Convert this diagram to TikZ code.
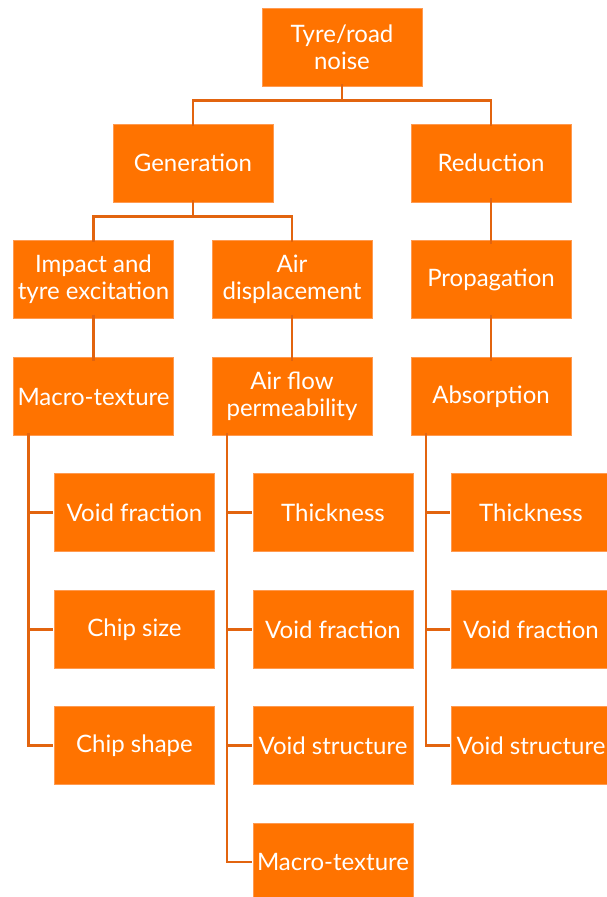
\documentclass[tikz,border=0pt]{standalone}
\usepackage{fontspec}
\setmainfont{Lato}
\definecolor{boxfill}{HTML}{FF7300}
\definecolor{boxedge}{HTML}{FF9A50}
\definecolor{linec}{HTML}{E2640F}
\begin{document}
\begin{tikzpicture}[x=1pt,y=-1pt,
  box/.style={fill=boxfill,draw=boxedge,line width=0.6pt,minimum width=160pt,minimum height=78pt,
    text=white,align=center,font=\fontsize{24}{27}\selectfont,inner sep=0pt},
  conn/.style={draw=linec,line width=2.4pt}]
\useasboundingbox (0,0) rectangle (607,897);
\node[box] (top) at (342,47) {Tyre/road\\noise};
\node[box] (gen) at (193,163) {Generation};
\node[box] (red) at (491,163) {Reduction};
\node[box] (imp) at (93.5,279.5) {Impact and\\tyre excitation};
\node[box] (air) at (292,279.5) {Air\\displacement};
\node[box] (prop) at (491,279.5) {Propagation};
\node[box] (mac) at (93.5,396.5) {Macro-texture};
\node[box] (afp) at (292,396.5) {Air flow\\permeability};
\node[box] (abs) at (491,396.5) {Absorption};
\node[box] (l1) at (134.5,512.5) {Void fraction};
\node[box] (l2) at (134.5,629.5) {Chip size};
\node[box] (l3) at (134.5,745.5) {Chip shape};
\node[box] (m1) at (333,512.5) {Thickness};
\node[box] (m2) at (333,629.5) {Void fraction};
\node[box] (m3) at (333,745.5) {Void structure};
\node[box] (m4) at (333,862) {Macro-texture};
\node[box] (r1) at (531,512.5) {Thickness};
\node[box] (r2) at (531,629.5) {Void fraction};
\node[box] (r3) at (531,745.5) {Void structure};
% connectors
\draw[conn] ([yshift=2pt]top.south) -- ++(0,16) -| ([yshift=-2pt]gen.north);
\draw[conn] ([yshift=2pt]top.south) -- ++(0,16) -| ([yshift=-2pt]red.north);
\draw[conn] ([yshift=2pt]gen.south) -- ++(0,16) -| ([yshift=-2pt]imp.north);
\draw[conn] ([yshift=2pt]gen.south) -- ++(0,16) -| ([yshift=-2pt]air.north);
\draw[conn] ([yshift=4pt]red.south) -- ([yshift=-4pt]prop.north);
\draw[conn] ([yshift=4pt]imp.south) -- ([yshift=-4pt]mac.north);
\draw[conn] ([yshift=4pt]air.south) -- ([yshift=-4pt]afp.north);
\draw[conn] ([yshift=4pt]prop.south) -- ([yshift=-4pt]abs.north);
\coordinate (mL) at ([xshift=-65pt,yshift=3pt]mac.south);
\coordinate (aL) at ([xshift=-65pt,yshift=3pt]afp.south);
\coordinate (bL) at ([xshift=-65pt,yshift=3pt]abs.south);
\draw[conn] (mL) |- ([xshift=-1pt]l3.west);
\draw[conn] (mL |- l1.west) -- ([xshift=-1pt]l1.west);
\draw[conn] (mL |- l2.west) -- ([xshift=-1pt]l2.west);
\draw[conn] (aL) |- ([xshift=-1pt]m4.west);
\draw[conn] (aL |- m1.west) -- ([xshift=-1pt]m1.west);
\draw[conn] (aL |- m2.west) -- ([xshift=-1pt]m2.west);
\draw[conn] (aL |- m3.west) -- ([xshift=-1pt]m3.west);
\draw[conn] (bL) |- ([xshift=-1pt]r3.west);
\draw[conn] (bL |- r1.west) -- ([xshift=-1pt]r1.west);
\draw[conn] (bL |- r2.west) -- ([xshift=-1pt]r2.west);
\end{tikzpicture}
\end{document}
